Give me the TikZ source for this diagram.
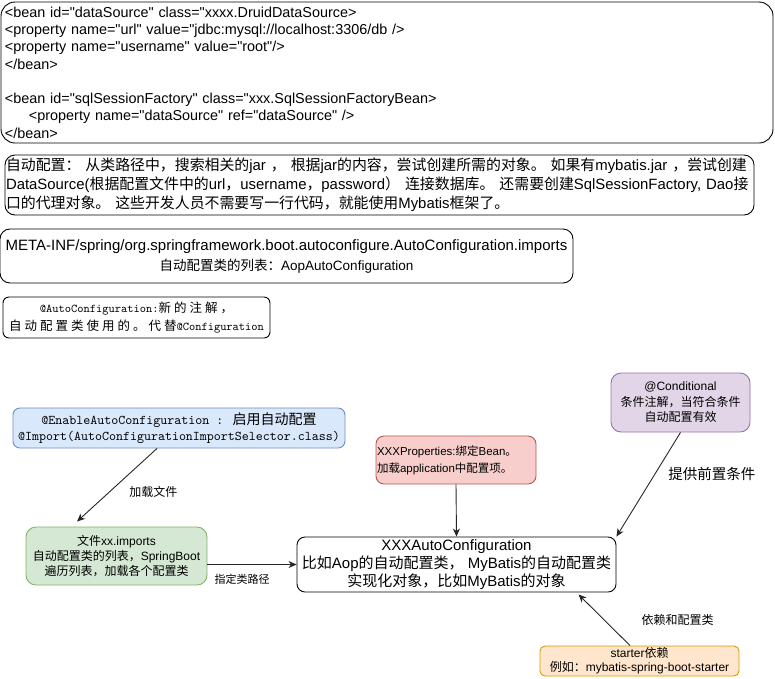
\documentclass[tikz,border=0pt]{standalone}
\usepackage{fontspec}
\setmainfont{Liberation Sans}[Ligatures=TeXOff]
\newfontfamily\cjkfont{Noto Sans CJK SC}
\newfontfamily\cjkwide{Noto Sans CJK SC}[LetterSpace=24]
\newfontfamily\codefont{lmmono10-regular.otf}[Scale=0.952]
\usetikzlibrary{arrows.meta}

\definecolor{enablefill}{HTML}{DAE8FC}
\definecolor{enableline}{HTML}{6C8EBF}
\definecolor{propsfill}{HTML}{F8CECC}
\definecolor{propsline}{HTML}{B85450}
\definecolor{condfill}{HTML}{E1D5E7}
\definecolor{condline}{HTML}{9673A6}
\definecolor{filefill}{HTML}{D5E8D4}
\definecolor{fileline}{HTML}{82B366}
\definecolor{starterfill}{HTML}{FFE6CC}
\definecolor{starterline}{HTML}{D79B00}

% Han characters switch to the CJK font
\newXeTeXintercharclass\hanclass
\newcount\hanc
\def\hanrange#1#2{\hanc=#1\relax
  \loop\XeTeXcharclass\hanc=\hanclass
  \ifnum\hanc<#2\relax\advance\hanc by 1 \repeat}
\hanrange{"3000}{"303F}
\hanrange{"4E00}{"9FFF}
\hanrange{"FF00}{"FFEF}
\def\hanswitch{\cjkfont}
\XeTeXinterchartoks 0 \hanclass = {\begingroup\hanswitch}
\XeTeXinterchartoks 4095 \hanclass = {\begingroup\hanswitch}
\XeTeXinterchartoks \hanclass 0 = {\endgroup}
\XeTeXinterchartoks \hanclass 4095 = {\endgroup}
\XeTeXinterchartokenstate=1

\begin{document}
\begin{tikzpicture}[x=1pt,y=-1pt]%
  \tikzstyle{card}=[draw,line width=0.9pt,inner sep=0pt,rounded corners=10pt]
  \tikzstyle{arr}=[draw=black!85,line width=0.9pt,-{Stealth[length=8pt,width=7pt,inset=2.5pt]}]
  \tikzstyle{lbl}=[inner sep=0pt,font=\fontsize{12}{14}\selectfont]
  \useasboundingbox (0,0) rectangle (775,678);

  % notes at the top
  \node(xml)[card,rounded corners=14pt,minimum width=772pt,minimum height=141pt,text width=764pt,
    align=left,font=\fontsize{14.4}{17.3}\selectfont] at (387,72.5)
    {<bean id="dataSource" class="xxxx.DruidDataSource>\\
     <property name="url" value="jdbc:mysql://localhost:3306/db />\\
     <property name="username" value="root"/>\\
     </bean>\\
     \mbox{}\\
     <bean id="sqlSessionFactory" class="xxx.SqlSessionFactoryBean>\\
     \hspace*{24pt}<property name="dataSource" ref="dataSource" />\\
     </bean>};
  \node(auto)[card,minimum width=749pt,minimum height=60pt,text width=747pt,
    align=left,font=\fontsize{14.9}{19}\selectfont] at (379.5,185)
    {自动配置： 从类路径中，搜索相关的jar ， 根据jar的内容，尝试创建所需的对象。 如果有mybatis.jar ，尝试创建\\
     DataSource(根据配置文件中的url，username，password） 连接数据库。 还需要创建SqlSessionFactory, Dao接\\
     口的代理对象。 这些开发人员不需要写一行代码，就能使用Mybatis框架了。};
  \node(metainf)[card,minimum width=573pt,minimum height=54pt,align=center,
    font=\fontsize{15}{20}\selectfont] at (286.5,256)
    {META-INF/spring/org.springframework.boot.autoconfigure.AutoConfiguration.imports\\
     {\fontsize{13.5}{20}\selectfont 自动配置类的列表：AopAutoConfiguration}};
  \node(anno)[card,rounded corners=6pt,minimum width=267pt,minimum height=41pt,align=center,
    font=\codefont\fontsize{12.5}{18}\selectfont\def\hanswitch{\cjkwide}] at (136.5,317.5)
    {@AutoConfiguration:新的注解，\\自动配置类使用的。代替@Configuration};

  % diagram
  \node(enable)[card,rounded corners=7pt,draw=enableline,fill=enablefill,minimum width=332pt,
    minimum height=40pt,align=center,font=\codefont\fontsize{14}{16}\selectfont] at (179,428)
    {@EnableAutoConfiguration : 启用自动配置\\@Import(AutoConfigurationImportSelector.class)};
  \node(props)[card,rounded corners=8pt,draw=propsline,fill=propsfill,minimum width=160pt,
    minimum height=48pt,text width=158pt,align=left,font=\fontsize{11.5}{17}\selectfont] at (456,460)
    {XXXProperties:绑定Bean。\\加载application中配置项。};
  \node(cond)[card,draw=condline,fill=condfill,minimum width=139pt,minimum height=59pt,
    align=center,font=\fontsize{12}{15.5}\selectfont] at (680.5,402.5)
    {@Conditional\\条件注解，当符合条件\\自动配置有效};
  \node(filelist)[card,draw=fileline,fill=filefill,minimum width=181pt,minimum height=58pt,
    align=center,font=\fontsize{12}{15}\selectfont] at (116.5,556)
    {文件xx.imports\\自动配置类的列表，SpringBoot\\遍历列表，加载各个配置类};
  \node(autocfg)[card,rounded corners=8pt,minimum width=319pt,minimum height=55pt,
    align=center,font=\fontsize{15}{18}\selectfont] at (456.5,564.5)
    {XXXAutoConfiguration\\比如Aop的自动配置类， MyBatis的自动配置类\\实现化对象，比如MyBatis的对象};
  \node(starter)[card,rounded corners=5pt,draw=starterline,fill=starterfill,minimum width=199pt,
    minimum height=30pt,align=center,font=\fontsize{12}{14}\selectfont] at (639.5,661)
    {starter依赖\\例如：mybatis-spring-boot-starter};

  \draw[arr] ([xshift=-22pt]enable.south) -- node[lbl,pos=0.6,right=20pt]{加载文件}
    ([xshift=-39.5pt,yshift=5pt]filelist.north);
  \draw[arr] (filelist.east |- autocfg.west) -- node[lbl,below=9pt,xshift=-10pt,
    font=\fontsize{11}{13}\selectfont]{指定类路径} (autocfg.west);
  \draw[arr] (props.south) -- (autocfg.north);
  \draw[arr] (cond.south) -- node[lbl,pos=0.4,right=13pt,font=\fontsize{14.5}{16}\selectfont]{提供前置条件}
    (autocfg.north east);
  \draw[arr] ([xshift=-9.5pt]starter.north) -- node[lbl,pos=0.5,right=37pt]{依赖和配置类}
    ([xshift=122pt,yshift=-2pt]autocfg.south);
\end{tikzpicture}
\end{document}
